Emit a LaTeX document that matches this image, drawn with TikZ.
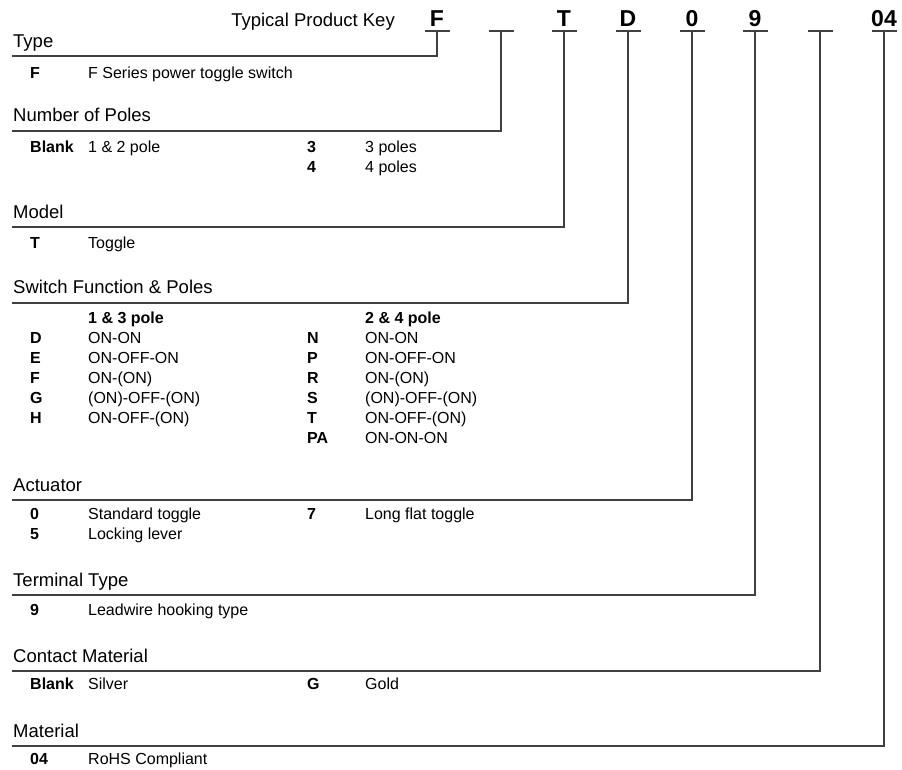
\documentclass[tikz,border=0pt]{standalone}
\usepackage{fontspec}
\setmainfont{Liberation Sans}
\newcommand{\headfont}{\fontsize{18.5}{21}\selectfont}
\newcommand{\bodyfont}{\fontsize{16}{19}\selectfont}
\newcommand{\keyfont}{\fontsize{23}{27}\selectfont\bfseries}
\tikzset{
	head/.style={anchor=base west, inner sep=0},
	code/.style={anchor=base west, inner sep=0, font=\bodyfont\bfseries},
	desc/.style={anchor=base west, inner sep=0, font=\bodyfont},
	keych/.style={anchor=base, inner sep=0, font=\keyfont},
	rule/.style={line width=2pt, black!75},
}

\begin{document}
\begin{tikzpicture}[x=1pt, y=-1pt]
	\useasboundingbox (0,0) rectangle (902,769);

	% product key
	\node[anchor=base east, inner sep=0, font=\headfont] (key) at (395,26) {Typical Product Key};
	\node[keych] (cF) at (437,26) {F}; \node[keych] (cT) at (564,26) {T}; \node[keych] (cD) at (628,26) {D};
	\node[keych] (c0) at (692,26) {0}; \node[keych] (c9) at (755,26) {9}; \node[keych] (c04) at (884,26) {04};
	\coordinate (kF) at (437,31); \coordinate (kP) at (501,31); \coordinate (kT) at (564,31); \coordinate (kD) at (628,31);
	\coordinate (k0) at (692,31); \coordinate (k9) at (755,31); \coordinate (kC) at (820,31); \coordinate (k04) at (884,31);
	\foreach \k in {kF,kP,kT,kD,k0,k9,kC,k04}
		\draw[rule] ([xshift=-12.5]\k) -- ([xshift=12.5]\k);

	% section rules
	\coordinate (lType) at (12,56); \coordinate (lPoles) at (12,131); \coordinate (lModel) at (12,227); \coordinate (lFunc) at (12,303);
	\coordinate (lAct) at (12,500); \coordinate (lTerm) at (12,595); \coordinate (lCont) at (12,671); \coordinate (lMat) at (12,746);
	\draw[rule] (lType) -| (kF); \draw[rule] (lPoles) -| (kP); \draw[rule] (lModel) -| (kT); \draw[rule] (lFunc) -| (kD);
	\draw[rule] (lAct) -| (k0); \draw[rule] (lTerm) -| (k9); \draw[rule] (lCont) -| (kC); \draw[rule] (lMat) -| (k04);

	% Type
	\node[head, font=\headfont] (hType) at (13,47) {Type};
	\node[code] (tF) at (30,78) {F}; \node[desc] (tFd) at (88,78) {F Series power toggle switch};

	% Number of Poles
	\node[head, font=\headfont] (hPoles) at (13,121) {Number of Poles};
	\node[code] (pB) at (30,152) {Blank}; \node[desc] (pBd) at (88,152) {1 \& 2 pole};
	\node[code] (p3) at (307,152) {3}; \node[desc] (p3d) at (365,152) {3 poles};
	\node[code] (p4) at (307,172) {4}; \node[desc] (p4d) at (365,172) {4 poles};

	% Model
	\node[head, font=\headfont] (hModel) at (13,218) {Model};
	\node[code] (mT) at (30,248) {T}; \node[desc] (mTd) at (88,248) {Toggle};

	% Switch Function & Poles
	\node[head, font=\headfont] (hFunc) at (13,293) {Switch Function \& Poles};
	\node[code] (f13) at (88,323) {1 \& 3 pole}; \node[code] (f24) at (365,323) {2 \& 4 pole};
	\node[code] (fD) at (30,343) {D}; \node[desc] (fDd) at (88,343) {ON-ON};
	\node[code] (fE) at (30,363) {E}; \node[desc] (fEd) at (88,363) {ON-OFF-ON};
	\node[code] (fF) at (30,383) {F}; \node[desc] (fFd) at (88,383) {ON-(ON)};
	\node[code] (fG) at (30,403) {G}; \node[desc] (fGd) at (88,403) {(ON)-OFF-(ON)};
	\node[code] (fH) at (30,423) {H}; \node[desc] (fHd) at (88,423) {ON-OFF-(ON)};
	\node[code] (fN) at (307,343) {N}; \node[desc] (fNd) at (365,343) {ON-ON};
	\node[code] (fP) at (307,363) {P}; \node[desc] (fPd) at (365,363) {ON-OFF-ON};
	\node[code] (fR) at (307,383) {R}; \node[desc] (fRd) at (365,383) {ON-(ON)};
	\node[code] (fS) at (307,403) {S}; \node[desc] (fSd) at (365,403) {(ON)-OFF-(ON)};
	\node[code] (fT) at (307,423) {T}; \node[desc] (fTd) at (365,423) {ON-OFF-(ON)};
	\node[code] (fPA) at (307,443) {PA}; \node[desc] (fPAd) at (365,443) {ON-ON-ON};

	% Actuator
	\node[head, font=\headfont] (hAct) at (13,491) {Actuator};
	\node[code] (a0) at (30,519) {0}; \node[desc] (a0d) at (88,519) {Standard toggle};
	\node[code] (a5) at (30,539) {5}; \node[desc] (a5d) at (88,539) {Locking lever};
	\node[code] (a7) at (307,519) {7}; \node[desc] (a7d) at (365,519) {Long flat toggle};

	% Terminal Type
	\node[head, font=\headfont] (hTerm) at (13,586) {Terminal Type};
	\node[code] (r9) at (30,615) {9}; \node[desc] (r9d) at (88,615) {Leadwire hooking type};

	% Contact Material
	\node[head, font=\headfont] (hCont) at (13,662) {Contact Material};
	\node[code] (cB) at (30,689) {Blank}; \node[desc] (cBd) at (88,689) {Silver};
	\node[code] (cG) at (307,689) {G}; \node[desc] (cGd) at (365,689) {Gold};

	% Material
	\node[head, font=\headfont] (hMat) at (13,737) {Material};
	\node[code] (x04) at (30,764) {04}; \node[desc] (x04d) at (88,764) {RoHS Compliant};
\end{tikzpicture}
\end{document}
